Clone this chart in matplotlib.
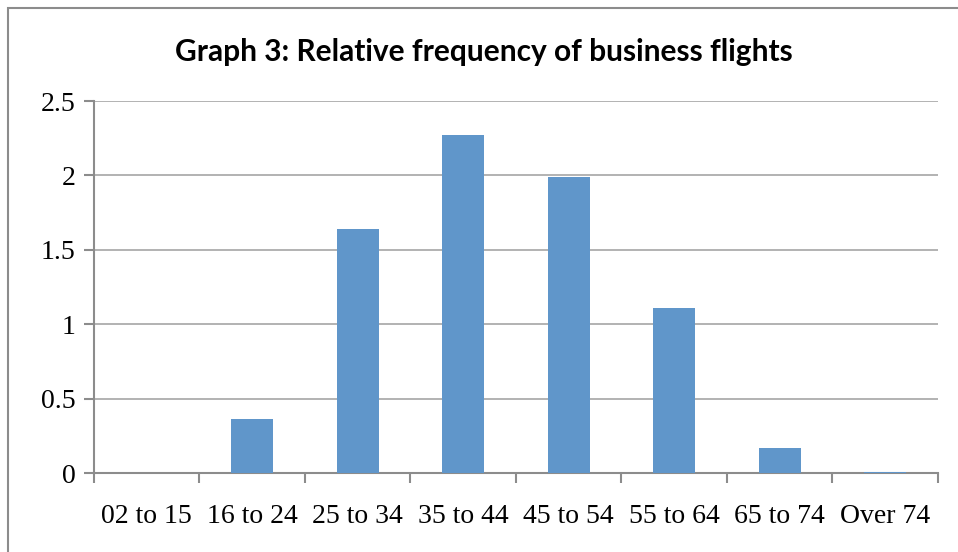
import matplotlib
matplotlib.use('Agg')
import matplotlib.pyplot as plt
from matplotlib.patches import Rectangle

age_groups = ['02 to 15', '16 to 24', '25 to 34', '35 to 44',
              '45 to 54', '55 to 64', '65 to 74', 'Over 74']
rel_freq = [0.0, 0.36, 1.64, 2.27, 1.99, 1.11, 0.17, 0.01]
y_ticks = [0, 0.5, 1, 1.5, 2, 2.5]

fig = plt.figure(figsize=(9.58, 5.52), dpi=100)
ax = fig.add_axes([0.098, 0.143, 0.881, 0.674])

# chart border (only top/left edges fall inside the image)
fig.patches.append(Rectangle((8 / 958, -0.1), 1.2, (552 - 8) / 552 + 0.1,
                             transform=fig.transFigure, fill=False,
                             edgecolor='#8c8c8c', linewidth=1.5))

x = range(len(age_groups))
ax.bar(x, rel_freq, width=0.4, color='#6096ca', zorder=3)

ax.set_xlim(-0.5, len(age_groups) - 0.5)
ax.set_ylim(0, 2.5)
ax.set_yticks(y_ticks)
ax.set_yticklabels(['0', '0.5', '1', '1.5', '2', '2.5'])
ax.yaxis.grid(True, color='#a6a6a6', linewidth=1.2, zorder=0)

ax.set_xticks([i for i in x])
ax.set_xticklabels(age_groups)
ax.set_xticks([i - 0.5 for i in range(len(age_groups) + 1)], minor=True)
ax.tick_params(axis='x', which='major', length=0, pad=22)
ax.tick_params(axis='x', which='minor', length=7, width=1.5, color='#8c8c8c')
ax.tick_params(axis='y', length=7, width=1.5, color='#8c8c8c', pad=6)

for lbl in ax.get_xticklabels() + ax.get_yticklabels():
    lbl.set_fontfamily('Liberation Serif')
    lbl.set_fontsize(20)

for side in ['top', 'right']:
    ax.spines[side].set_visible(False)
for side in ['left', 'bottom']:
    ax.spines[side].set_color('#8c8c8c')
    ax.spines[side].set_linewidth(1.5)

fig.text(0.505, 0.905, 'Graph 3: Relative frequency of business flights',
         ha='center', va='center', fontsize=21.5, fontweight='bold',
         family='Lato')

fig.savefig('out.png', dpi=100)
